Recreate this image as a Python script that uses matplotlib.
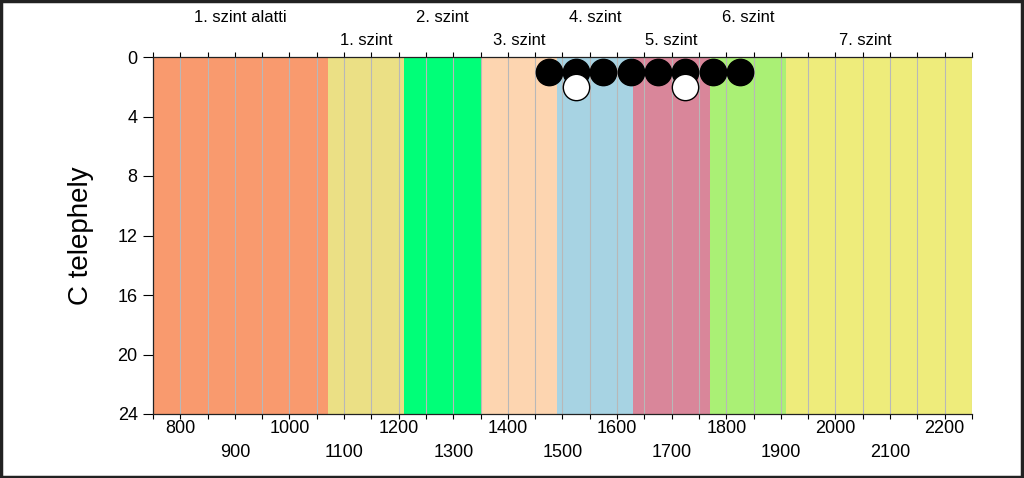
import matplotlib
matplotlib.use("Agg")
import matplotlib.pyplot as plt
import matplotlib.transforms as mtransforms
from matplotlib.patches import Rectangle
from matplotlib.ticker import MultipleLocator

plt.rcParams['font.family'] = ['Liberation Sans', 'DejaVu Sans']

# level bands (x from / to) and their names
band_edges = [750, 1070, 1210, 1350, 1490, 1630, 1770, 1910, 2250]
band_colors = ['#F99A6E', '#EBE085', '#00FF78', '#FDD5B0',
               '#A7D3E3', '#D9869A', '#AAF075', '#EEEC7B']
level_names = ['1. szint alatti', '1. szint', '2. szint', '3. szint',
               '4. szint', '5. szint', '6. szint', '7. szint']
level_label_x = [910, 1140, 1280, 1420, 1560, 1700, 1840, 2055]

# observations
black_x = [1475, 1525, 1575, 1625, 1675, 1725, 1775, 1825]
black_y = [1, 1, 1, 1, 1, 1, 1, 1]
white_x = [1525, 1725]
white_y = [2, 2]

xtick_vals = list(range(800, 2201, 100))
ytick_vals = [0, 4, 8, 12, 16, 20, 24]

fig = plt.figure(figsize=(10.24, 4.78), dpi=100)
ax = fig.add_axes([153/1024, 1 - 414/478, (972-153)/1024, (414-57)/478])

for i, c in enumerate(band_colors):
    ax.axvspan(band_edges[i], band_edges[i+1], color=c, lw=0, zorder=1)

ax.scatter(black_x, black_y, s=360, c='black', edgecolors='black', zorder=3, clip_on=False)
ax.scatter(white_x, white_y, s=360, c='white', edgecolors='black', linewidths=1, zorder=4, clip_on=False)

ax.set_xlim(band_edges[0], band_edges[-1])
ax.set_ylim(24, 0)
ax.set_yticks(ytick_vals)
ax.set_xticks(xtick_vals)
ax.set_xticklabels([str(v) if i % 2 == 0 else '\n' + str(v) for i, v in enumerate(xtick_vals)])
for lbl in ax.get_xticklabels():
    lbl.set_linespacing(1.55)
ax.xaxis.set_minor_locator(MultipleLocator(50))
ax.grid(axis='x', which='both', color='#B8B8B8', lw=0.8)

ax.tick_params(axis='x', which='both', top=True, direction='out', length=3.5, width=0.8,
               labelsize=13, pad=1)
ax.tick_params(axis='y', direction='out', length=7, width=0.8, labelsize=13, pad=4)

for s in ['left', 'top', 'bottom']:
    ax.spines[s].set_linewidth(0.9)
    ax.spines[s].set_color('#222222')
ax.spines['right'].set_visible(False)

ax.set_ylabel('C telephely', fontsize=20)
ax.yaxis.set_label_coords(-0.072, 0.5)

trans = mtransforms.blended_transform_factory(ax.transData, ax.transAxes)
for i, (name, xp) in enumerate(zip(level_names, level_label_x)):
    yy = 1.112 if i % 2 == 0 else 1.045
    ax.text(xp, yy, name, transform=trans, ha='center', va='center', fontsize=12)

fig.patches.append(Rectangle((0.001, 0.002), 0.997, 0.995, transform=fig.transFigure,
                             fill=False, edgecolor='#222222', lw=2.5))

fig.savefig('out.png', dpi=100)
